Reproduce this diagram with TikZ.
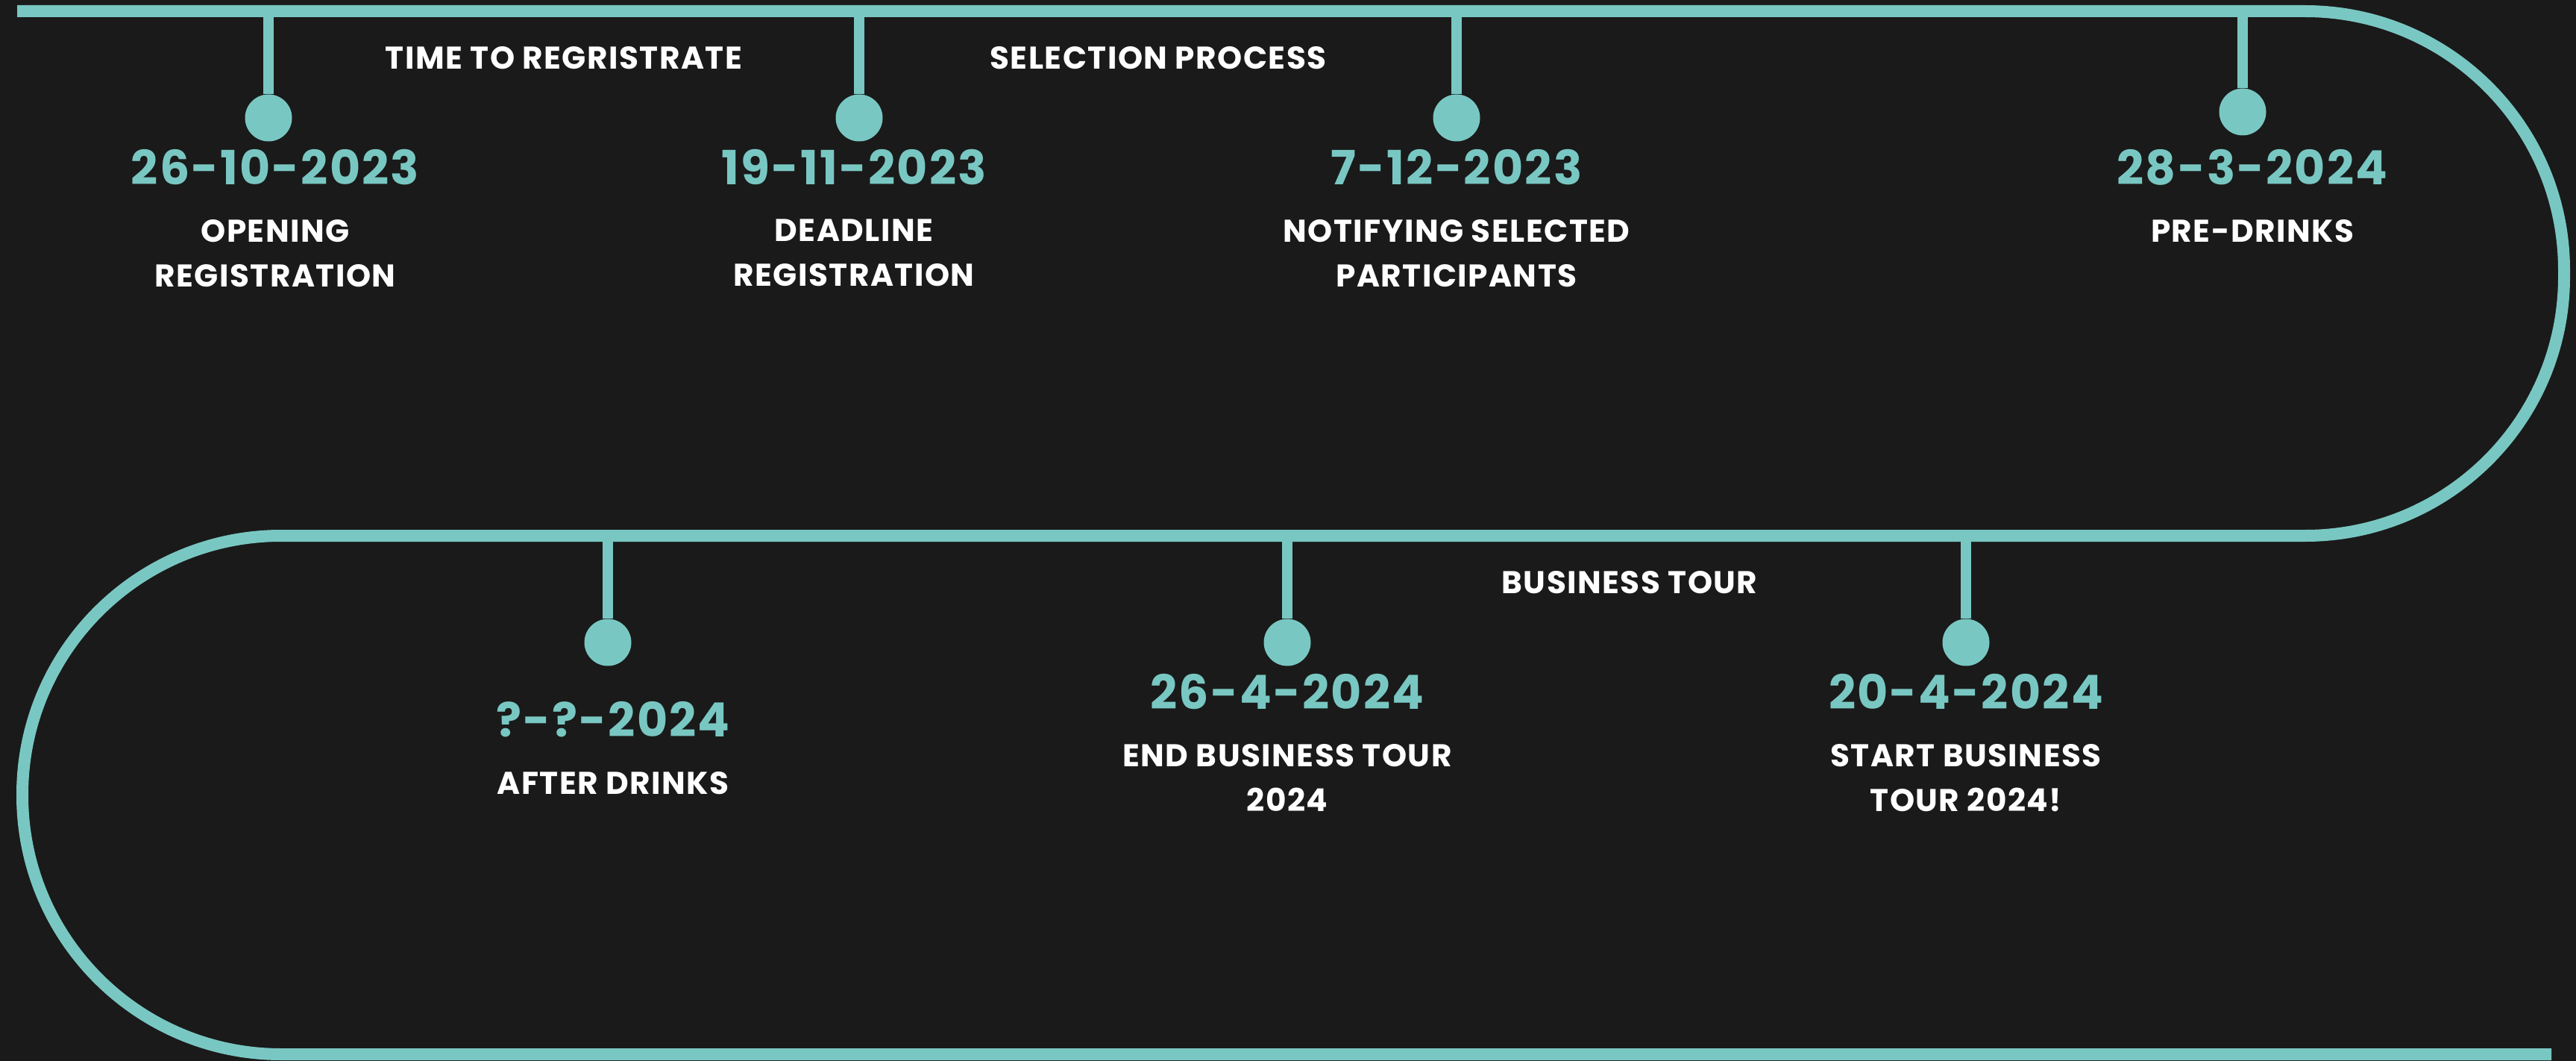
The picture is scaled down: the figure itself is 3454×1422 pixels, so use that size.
\documentclass[tikz,border=0pt]{standalone}
\usepackage{fontspec}
\setmainfont[LetterSpace=3.5]{Poppins}
\usepackage{tikz}
\usetikzlibrary{positioning}
\definecolor{tourteal}{HTML}{79C7C2}
\definecolor{bgdark}{HTML}{1A1A1A}

\begin{document}
\begin{tikzpicture}[
    x=0.1mm, y=-0.1mm,
    event/.style={
		circle,
		fill=tourteal,
		inner sep=0pt,
		minimum size=6.3mm
	},
	datum/.style={
		text=tourteal,
		font=\fontsize{18}{22}\selectfont\bfseries,
		inner sep=0pt,
		text height=4.4mm,
		text depth=0pt
	},
	caption/.style={
		text=white,
		font=\fontsize{12}{17}\selectfont\bfseries,
		align=center,
		inner sep=0pt
	},
	phase/.style={
		text=white,
		font=\fontsize{12}{17}\selectfont\bfseries,
		inner sep=0pt
	},
	track/.style={
		draw=tourteal,
		line width=1.6mm
	},
	stem/.style={
		draw=tourteal,
		line width=1.4mm
	}
  ]
  \path[fill=bgdark, use as bounding box] (0,0) rectangle (3454,1422);

  % the track, snaking from top left to bottom right
  \draw[track, rounded corners=3.47cm] (23,15) -- (3438,15) -- (3438,718)
    -- (30,718) -- (30,1413) -- (3421,1413);
  \coordinate (topline) at (0,15);
  \coordinate (midline) at (0,718);

  % first row of events
  \node [event] (event1) at (360,158) {};
  \node [event] (event2) at (1152,158) {};
  \node [event] (event3) at (1953,158) {};
  \node [event] (event4) at (3007,150) {};

  \node [datum, below=1.3mm of event1, xshift=0.9mm] (date1) {26-10-2023};
  \node [datum, below=1.3mm of event2, xshift=-0.7mm] (date2) {19-11-2023};
  \node [datum, below=1.3mm of event3] (date3) {7-12-2023};
  \node [datum, below=2.1mm of event4, xshift=1.3mm] (date4) {28-3-2024};

  \node [caption, below=4.5mm of date1] (text1) {OPENING\\REGISTRATION};
  \node [caption, below=4.5mm of date2] (text2) {DEADLINE\\REGISTRATION};
  \node [caption, below=4.5mm of date3] (text3) {NOTIFYING SELECTED\\PARTICIPANTS};
  \node [caption, below=4.5mm of date4] (text4) {PRE-DRINKS};

  % second row of events
  \node [event] (event5) at (815,861) {};
  \node [event] (event6) at (1726,861) {};
  \node [event] (event7) at (2636,861) {};

  \node [datum, below=5mm of event5, xshift=0.7mm] (date5) {?-?-2024};
  \node [datum, below=1.3mm of event6] (date6) {26-4-2024};
  \node [datum, below=1.3mm of event7] (date7) {20-4-2024};

  \node [caption, below=4.5mm of date5] (text5) {AFTER DRINKS};
  \node [caption, below=4.5mm of date6] (text6) {END BUSINESS TOUR\\2024};
  \node [caption, below=4.5mm of date7] (text7) {START BUSINESS\\TOUR 2024!};

  % phases between the events
  \node [phase] (phase1) at (756,78) {TIME TO REGRISTRATE};
  \node [phase] (phase2) at (1553,78) {SELECTION PROCESS};
  \node [phase] (phase3) at (2185,781) {BUSINESS TOUR};

  \foreach \i in {1,...,4}
    \draw [stem] (event\i.north) -- (event\i.north |- topline);
  \foreach \i in {5,...,7}
    \draw [stem] (event\i.north) -- (event\i.north |- midline);

\end{tikzpicture}
\end{document}
